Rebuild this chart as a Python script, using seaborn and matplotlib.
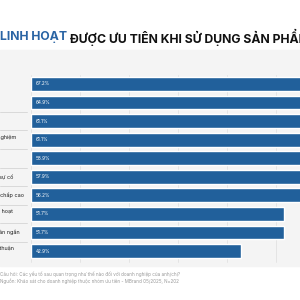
import matplotlib
matplotlib.use("Agg")
import matplotlib.pyplot as plt
import seaborn as sns
import pandas as pd
from matplotlib.patches import Rectangle

# Yếu tố ưu tiên (nhãn bị cắt bên trái như ảnh gốc)
categories = [
    "Lãi suất cạnh tranh",
    "Phí dịch vụ hợp lý",
    "Uy tín thương hiệu ngân hàng",
    "Đội ngũ tư vấn viên giàu kinh nghiệm\nvà tận tâm",
    "Ngân hàng số dễ sử dụng",
    "Tốc độ giải quyết hồ sơ, xử lý sự cố",
    "Hạn mức cấp tín dụng, vay tín chấp cao",
    "Sản phẩm, dịch vụ thiết kế linh hoạt\ntheo nhu cầu",
    "Thời gian phê duyệt và giải ngân ngắn",
    "Mạng lưới chi nhánh giao dịch thuận\ntiện",
]
values = [67.2, 64.9, 61.1, 61.1, 58.9, 57.9, 56.2, 51.7, 51.7, 42.9]
grid_ticks = [0, 10, 20, 30, 40, 50]

title_hl = "LINH HOẠT"
title_rest = "ĐƯỢC ƯU TIÊN KHI SỬ DỤNG SẢN PHẨM NGÂN HÀNG"
footer = [
    "Câu hỏi: Các yếu tố sau quan trọng như thế nào đối với doanh nghiệp của anh/chị?",
    "Nguồn: Khảo sát cho doanh nghiệp thuộc nhóm ưu tiên - MBrand 05/2025, N=202",
]

BLUE = "#21609b"
PANEL = "#f4f4f4"

sns.set_theme(style="white")
plt.rcParams["font.family"] = ["Inter", "DejaVu Sans"]

df = pd.DataFrame({"cat": categories, "val": values})

fig = plt.figure(figsize=(3, 3), dpi=100)
fig.patch.set_facecolor("white")
fig.patches.append(Rectangle((0, 1 - 266 / 300), 1, (266 - 50) / 300,
                             transform=fig.transFigure, color=PANEL, zorder=-5))

ax = fig.add_axes([31 / 300, 1 - 260.3 / 300, 269 / 300, 185.6 / 300])
ax.patch.set_visible(False)
sns.barplot(data=df, x="val", y="cat", color=BLUE, width=0.75, saturation=1,
            orient="h", ax=ax, zorder=2)
ax.set_xlim(0, 54.9)
for t in grid_ticks:
    ax.axvline(t, ymin=-0.01, ymax=1.0, color="#e2e2e2", lw=0.6, zorder=1, clip_on=False)
for s in ax.spines.values():
    s.set_visible(False)
ax.set_xticks([])
ax.set_yticks([])
ax.set_xlabel("")
ax.set_ylabel("")

# value labels inside bars
for i, v in enumerate(values):
    ax.text(1.0, i, f"{v:.1f}%", color="white", fontsize=3.4, va="center", ha="left", zorder=3)

# category labels, left aligned (mostly off canvas)
for i, c in enumerate(categories):
    ax.text(-0.41, i, c, transform=ax.get_yaxis_transform(), fontsize=4, color="#222222",
            ha="left", va="center", linespacing=1.2)

# separators in the label column
for i in range(1, 9):
    ax.axhline(i + 0.5, xmin=-0.115, xmax=-0.015, color="#d4d4d4", lw=0.6, clip_on=False)

# title: highlighted part + rest
t1 = fig.text(0.0, 1 - 37 / 300, title_hl, color="#2a64a4", fontsize=8.8,
              fontweight="bold", va="center", ha="left")
fig.canvas.draw()
bb = t1.get_window_extent(fig.canvas.get_renderer())
fig.text(bb.x1 / 300 + 2.5 / 300, 1 - 37 / 300, title_rest, color="#111111", fontsize=8.8,
         fontweight="bold", va="center", ha="left")

fig.text(0.0, 1 - 274 / 300, footer[0], color="#9a9a9a", fontsize=3.3, va="center", ha="left")
fig.text(0.0, 1 - 281 / 300, footer[1], color="#9a9a9a", fontsize=3.3, va="center", ha="left")

fig.savefig("out.png", dpi=100, facecolor="white")
